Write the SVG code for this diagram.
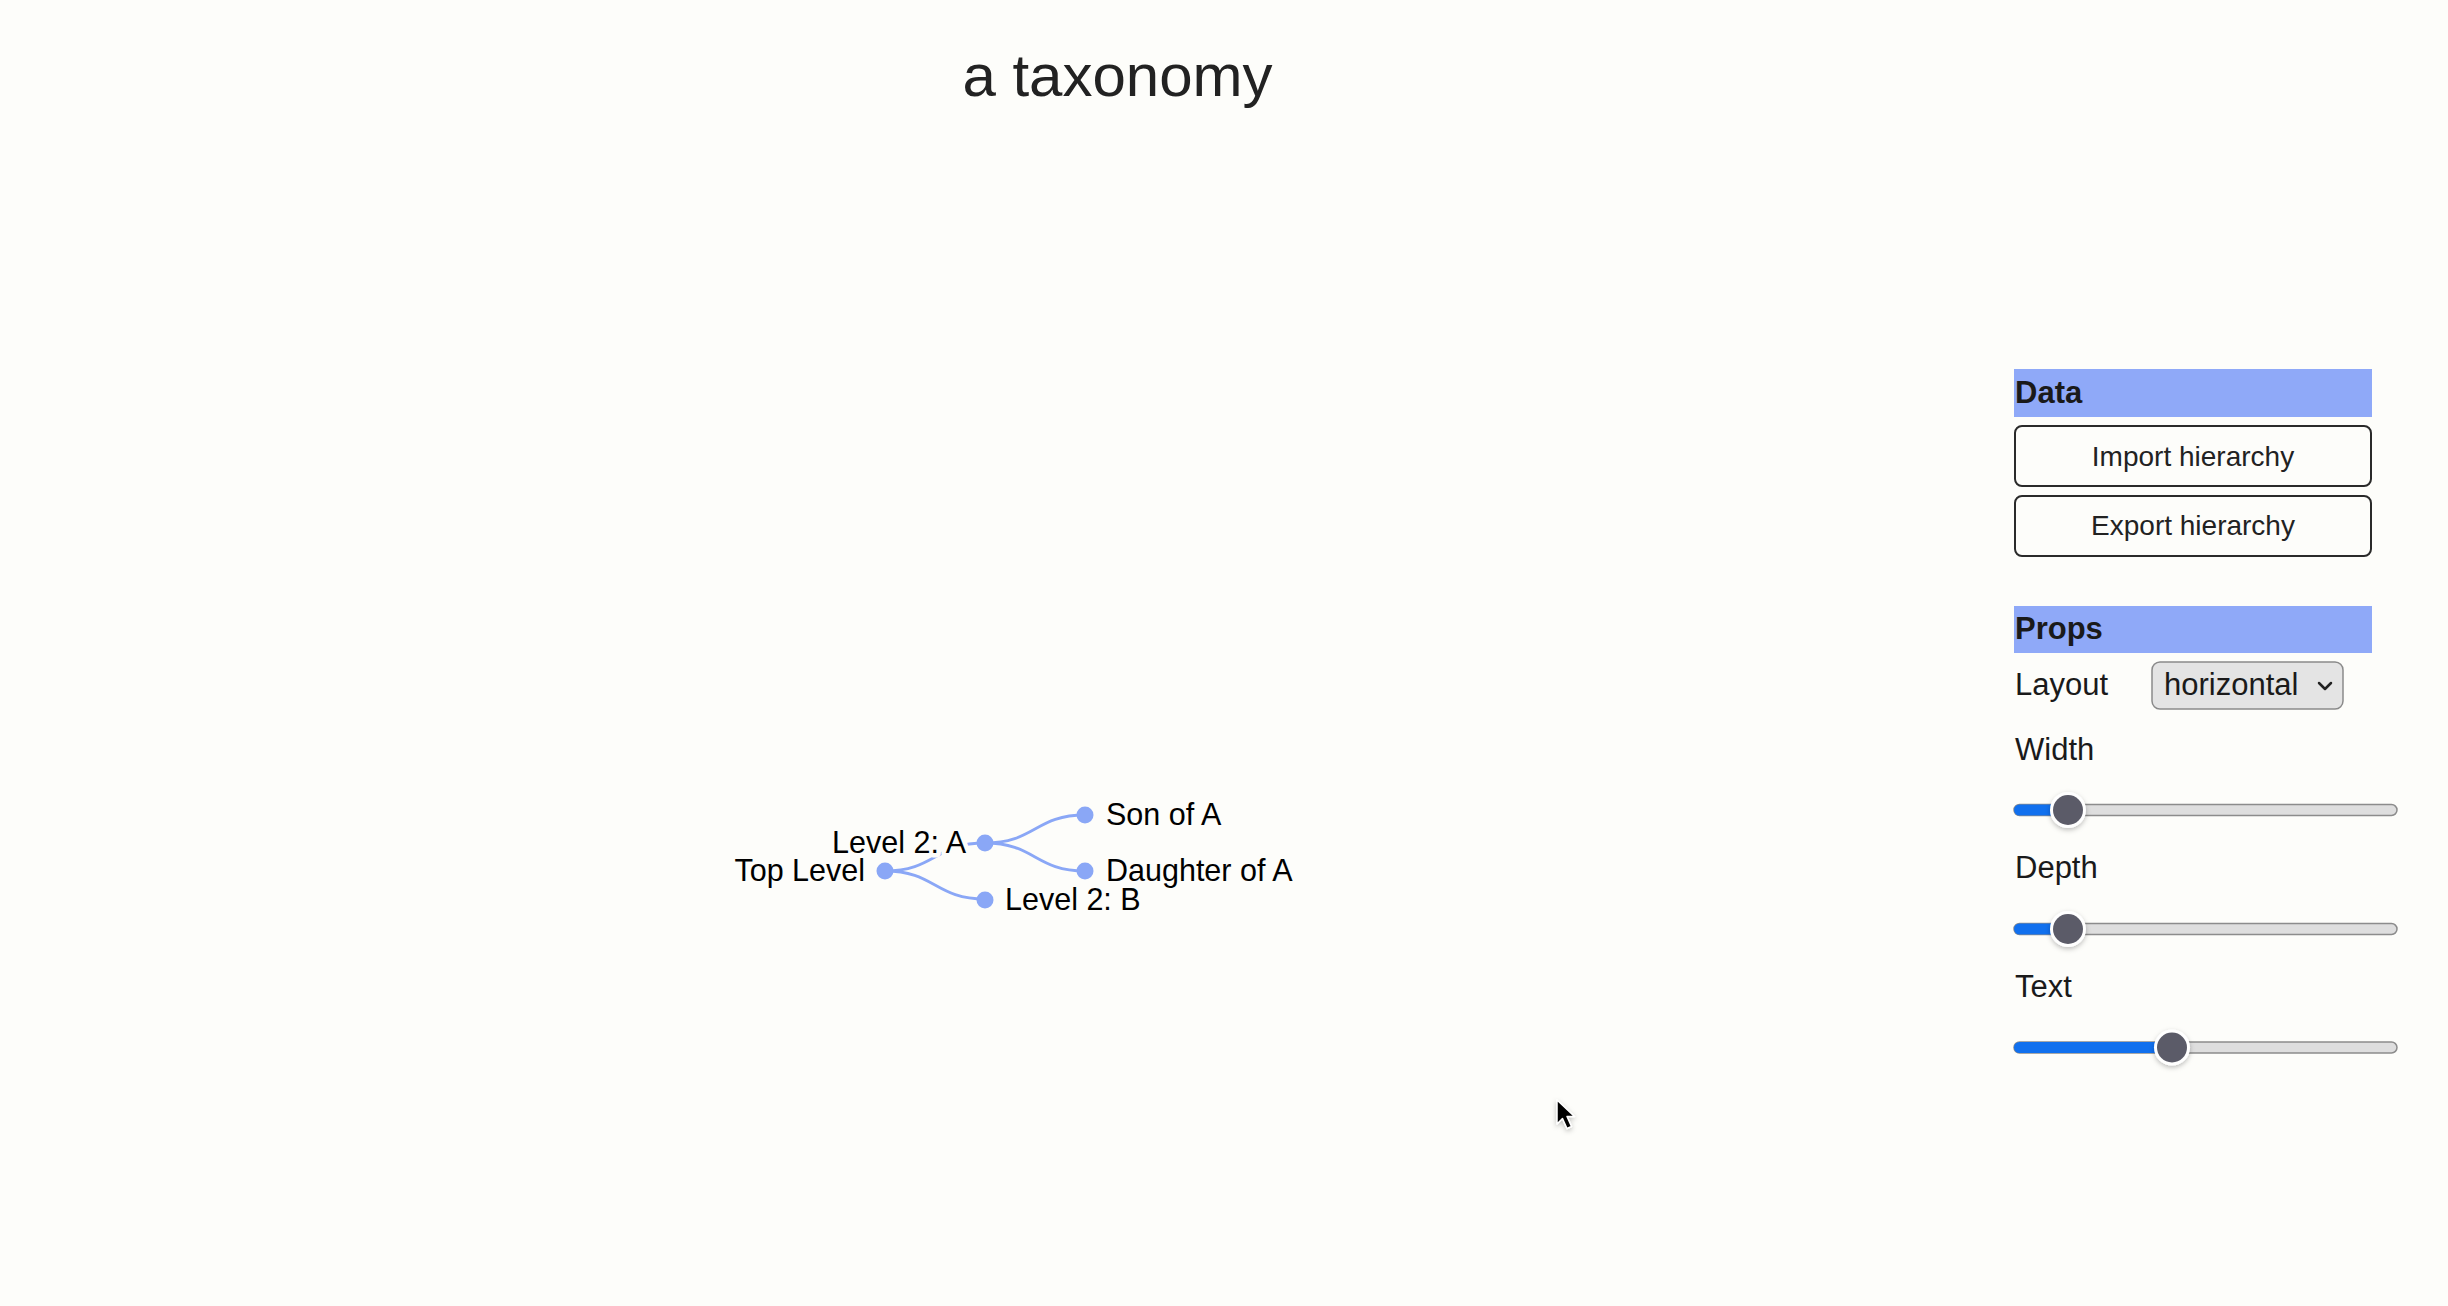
<svg xmlns="http://www.w3.org/2000/svg" width="2448" height="1306" viewBox="0 0 2448 1306">
  <defs>
    <style>
      text { font-family: "Liberation Sans", Arial, Helvetica, sans-serif; fill: #1a1a1a; }
      .title { font-size: 60px; fill: #222; }
      .node circle { fill: #8aa7f6; }
      .node text { font-size: 30.5px; fill: #000; stroke: #fdfdfa; stroke-width: 9px; stroke-linejoin: round; paint-order: stroke; }
      .link { fill: none; stroke: #8aa7f6; stroke-width: 2.8px; }
      .hdr rect { fill: #8fa9f8; }
      .hdr text { font-size: 31px; font-weight: bold; }
      .btn rect { fill: #fdfdfa; stroke: #2a2a2a; stroke-width: 2px; }
      .btn text { font-size: 28px; fill: #222; text-anchor: middle; }
      .lbl { font-size: 31px; }
      .track { fill: #dedede; stroke: #8c8c8c; stroke-width: 1.5px; }
      .fill { fill: #1170ee; }
      .thumb-out { fill: #ffffff; }
      .thumb-in { fill: #5b5b68; }
    </style>
    <filter id="sh" x="-50%" y="-50%" width="200%" height="200%">
      <feDropShadow dx="0" dy="2" stdDeviation="2.5" flood-color="#000" flood-opacity="0.25"/>
    </filter>
  </defs>

  <rect x="0" y="0" width="2448" height="1306" fill="#fdfdfa"/>

  <text class="title" x="1117.5" y="96" text-anchor="middle">a taxonomy</text>

  <g id="links">
    <path class="link" d="M885,871 C935,871 935,843 985,843"/>
    <path class="link" d="M885,871 C935,871 935,899 985,899"/>
    <path class="link" d="M985,843 C1035,843 1035,815 1085,815"/>
    <path class="link" d="M985,843 C1035,843 1035,871 1085,871"/>
  </g>

  <g id="node-top-level" class="node">
    <circle cx="885" cy="871" r="8.5"/>
    <text x="865" y="871" dy="0.33em" text-anchor="end">Top Level</text>
  </g>
  <g id="node-level-2-a" class="node">
    <circle cx="985" cy="843" r="8.5"/>
    <text x="966" y="843" dy="0.33em" text-anchor="end">Level 2: A</text>
  </g>
  <g id="node-level-2-b" class="node">
    <circle cx="985" cy="900" r="8.5"/>
    <text x="1005" y="900" dy="0.33em">Level 2: B</text>
  </g>
  <g id="node-son-of-a" class="node">
    <circle cx="1085" cy="815" r="8.5"/>
    <text x="1106" y="815" dy="0.33em">Son of A</text>
  </g>
  <g id="node-daughter-of-a" class="node">
    <circle cx="1085" cy="871" r="8.5"/>
    <text x="1106" y="871" dy="0.33em">Daughter of A</text>
  </g>

  <g id="panel">
    <g class="hdr">
      <rect x="2014" y="369" width="358" height="48"/>
      <text x="2015" y="403">Data</text>
    </g>
    <g class="btn">
      <rect x="2015" y="426" width="356" height="60" rx="7"/>
      <text x="2193" y="466">Import hierarchy</text>
    </g>
    <g class="btn">
      <rect x="2015" y="496" width="356" height="60" rx="7"/>
      <text x="2193" y="535">Export hierarchy</text>
    </g>

    <g class="hdr">
      <rect x="2014" y="606" width="358" height="47"/>
      <text x="2015" y="639">Props</text>
    </g>
    <text class="lbl" x="2015" y="695">Layout</text>
    <rect x="2152" y="662" width="191" height="47" rx="8" fill="#e4e4e4" stroke="#8a8a8a" stroke-width="1.5"/>
    <text class="lbl" x="2164" y="695" fill="#111">horizontal</text>
    <path d="M2319,683 L2325,689 L2331,683" fill="none" stroke="#222" stroke-width="2.5" stroke-linecap="round" stroke-linejoin="round"/>

    <text class="lbl" x="2015" y="760">Width</text>
    <rect class="track" x="2014" y="804.5" width="383" height="11" rx="5.5"/>
    <rect class="fill" x="2014" y="804.5" width="54" height="11" rx="5.5"/>
    <circle class="thumb-out" cx="2068" cy="810" r="18" filter="url(#sh)"/>
    <circle class="thumb-in" cx="2068" cy="810" r="15"/>

    <text class="lbl" x="2015" y="878">Depth</text>
    <rect class="track" x="2014" y="923.5" width="383" height="11" rx="5.5"/>
    <rect class="fill" x="2014" y="923.5" width="54" height="11" rx="5.5"/>
    <circle class="thumb-out" cx="2068" cy="929" r="18" filter="url(#sh)"/>
    <circle class="thumb-in" cx="2068" cy="929" r="15"/>

    <text class="lbl" x="2015" y="997">Text</text>
    <rect class="track" x="2014" y="1042" width="383" height="11" rx="5.5"/>
    <rect class="fill" x="2014" y="1042" width="158" height="11" rx="5.5"/>
    <circle class="thumb-out" cx="2172" cy="1047.5" r="18" filter="url(#sh)"/>
    <circle class="thumb-in" cx="2172" cy="1047.5" r="15"/>
  </g>

  <path id="cursor" d="M1557,1100 L1557,1124 L1562.5,1118.5 L1567,1128.5 L1571.5,1126.5 L1567,1116.5 L1574.5,1116.5 Z" fill="#000" stroke="#fff" stroke-width="1.5" stroke-linejoin="round" filter="url(#sh)"/>
</svg>
